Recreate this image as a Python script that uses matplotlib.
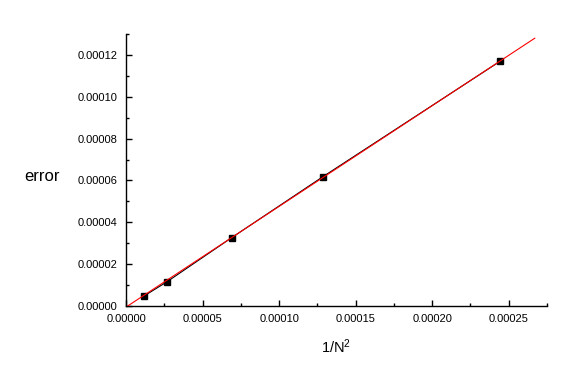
import matplotlib
matplotlib.use('Agg')
import matplotlib.pyplot as plt
from matplotlib.ticker import MultipleLocator, FormatStrFormatter

# Data
inv_n2 = [1.18e-5, 2.66e-5, 6.91e-5, 1.286e-4, 2.444e-4]
error = [4.8e-6, 11.5e-6, 32.7e-6, 61.8e-6, 117.0e-6]

# Linear fit (endpoints)
fit_x = [1.1e-6, 0.000267]
fit_y = [0.0, 0.000128]

plt.rcParams['font.family'] = ['Liberation Sans', 'DejaVu Sans']
plt.rcParams['mathtext.fontset'] = 'custom'
plt.rcParams['mathtext.rm'] = 'Liberation Sans'
plt.rcParams['mathtext.it'] = 'Liberation Sans'

fig = plt.figure(figsize=(5.82, 3.87), dpi=100)
ax = fig.add_axes([0.2165, 0.2093, 0.7234, 0.7028])

ax.plot(inv_n2, error, color='black', lw=0.8, marker='s', ms=4.2,
        markerfacecolor='black', markeredgecolor='black', zorder=3)
ax.plot(fit_x, fit_y, color='red', lw=0.8, zorder=4)

ax.set_xlim(0, 0.000275)
ax.set_ylim(0, 0.00013)

ax.xaxis.set_major_locator(MultipleLocator(0.00005))
ax.xaxis.set_minor_locator(MultipleLocator(0.000025))
ax.yaxis.set_major_locator(MultipleLocator(0.00002))
ax.yaxis.set_minor_locator(MultipleLocator(0.00001))
ax.xaxis.set_major_formatter(FormatStrFormatter('%.5f'))
ax.yaxis.set_major_formatter(FormatStrFormatter('%.5f'))

for side in ['top', 'right']:
    ax.spines[side].set_visible(False)
for side in ['left', 'bottom']:
    ax.spines[side].set_linewidth(1.0)

ax.tick_params(which='major', direction='in', length=4, width=1.0,
               labelsize=8, pad=6)
ax.tick_params(which='minor', direction='in', length=2, width=1.0)

ax.set_xlabel('1/N$^\\mathregular{2}$', fontsize=10.5)
ax.xaxis.set_label_coords(0.5, -0.115)
ax.set_ylabel('error', fontsize=12, rotation=0)
ax.yaxis.set_label_coords(-0.2, 0.45)

fig.savefig('out.png', dpi=100)
